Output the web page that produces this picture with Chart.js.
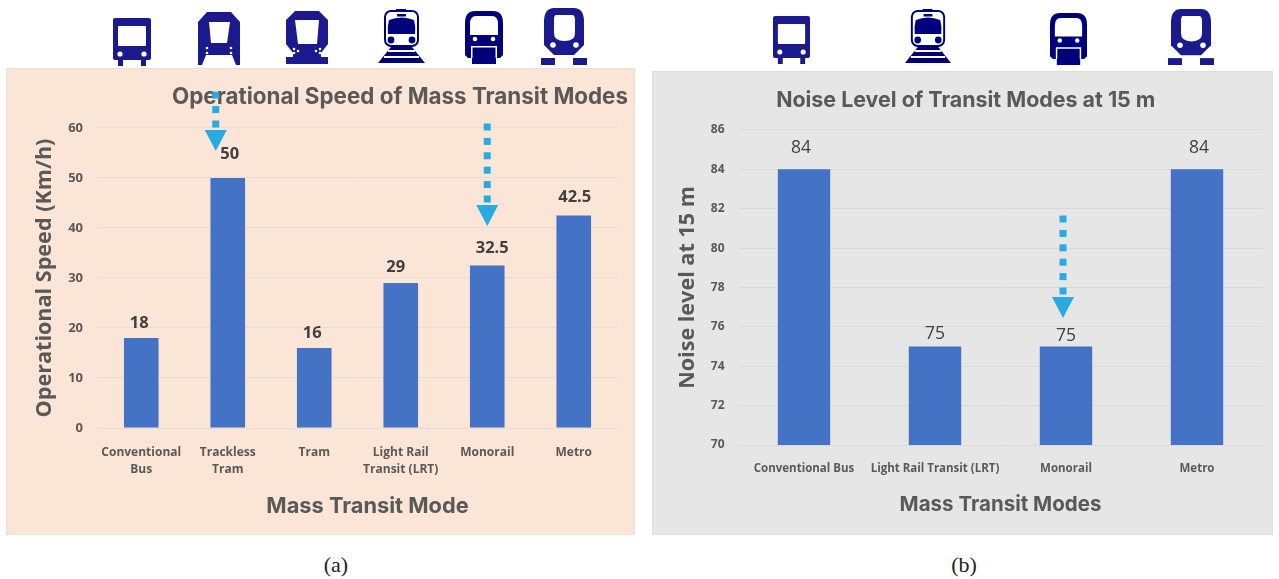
<!DOCTYPE html>
<html>
<head>
<meta charset="utf-8">
<script src="https://cdn.jsdelivr.net/npm/chart.js@4"></script>
<style>
  html, body { margin: 0; padding: 0; background: #fff; width: 1279px; height: 579px; overflow: hidden; }
  .panel { position: absolute; box-sizing: border-box; }
  .panel canvas { position: absolute; left: 0; top: 0; }
  #panelA { left: 7px; top: 69px; width: 627px; height: 465px; background: #fbe5d6; box-shadow: 0 0 0 1px #e4e0dc; }
  #panelB { left: 653px; top: 72px; width: 619px; height: 462px; background: #e6e6e6; box-shadow: 0 0 0 1px #dedede; }
  .caption { position: absolute; top: 552px; width: 60px; text-align: center; font: 22px "Liberation Serif", serif; color: #222; }
  svg.icon { position: absolute; overflow: visible; }
</style>
</head>
<body>

<!-- Vehicle pictograms, one symbol per transit mode -->
<svg width="0" height="0" style="position:absolute">
  <defs>
    <symbol id="bus" viewBox="0 0 38 48" preserveAspectRatio="none">
      <rect x="0" y="0" width="38" height="42" rx="2" fill="#1a1a8c"/>
      <rect x="5" y="8" width="28" height="20" rx="1" fill="#fff"/>
      <circle cx="7" cy="36" r="2.6" fill="#fff"/><circle cx="31" cy="36" r="2.6" fill="#fff"/>
      <rect x="5" y="42" width="5" height="6" fill="#1a1a8c"/><rect x="28" y="42" width="5" height="6" fill="#1a1a8c"/>
    </symbol>
    <symbol id="trackless" viewBox="0 0 42 53" preserveAspectRatio="none">
      <path d="M9 0H33L42 10V53H38L34 43H8L4 53H0V10Z" fill="#1a1a8c"/>
      <path d="M11 10H32L29 31H13Z" fill="#fff"/>
      <circle cx="9" cy="36" r="1.3" fill="#fff"/><circle cx="9" cy="41" r="1.3" fill="#fff"/>
      <circle cx="33" cy="36" r="1.3" fill="#fff"/><circle cx="33" cy="41" r="1.3" fill="#fff"/>
    </symbol>
    <symbol id="tram" viewBox="0 0 42 53" preserveAspectRatio="none">
      <path d="M9 0H33L42 9V33L35 42V46H42V53H0V46H7V42L0 33V9Z" fill="#1a1a8c"/>
      <path d="M9 9H33L31 33H12Z" fill="#fff"/>
      <circle cx="8" cy="38" r="1.3" fill="#fff"/><circle cx="12" cy="40" r="1.3" fill="#fff"/><circle cx="8" cy="42" r="1.3" fill="#fff"/>
      <circle cx="34" cy="38" r="1.3" fill="#fff"/><circle cx="30" cy="40" r="1.3" fill="#fff"/><circle cx="34" cy="42" r="1.3" fill="#fff"/>
    </symbol>
    <symbol id="lrt" viewBox="0 0 47 54" preserveAspectRatio="none">
      <rect x="18" y="0" width="10" height="2" fill="#00007a"/>
      <rect x="7" y="2" width="33" height="35" rx="6" fill="#fff" stroke="#00007a" stroke-width="2"/>
      <rect x="19" y="5" width="9" height="2.500" fill="#00007a"/>
      <path d="M11 11Q23.500 6 36 11Q38 18 37 25H10Q9 18 11 11Z" fill="#00007a"/>
      <circle cx="13" cy="31" r="3.400" fill="#00007a"/><circle cx="34" cy="31" r="3.400" fill="#00007a"/>
      <path d="M13 38H34L47 54H0Z" fill="#00007a"/>
      <rect x="10" y="41" width="27" height="2" fill="#fff"/><rect x="6" y="47" width="35" height="2" fill="#fff"/>
    </symbol>
    <symbol id="mono" viewBox="0 0 38 53" preserveAspectRatio="none">
      <path d="M10 0H28Q38 0 38 12V44L35 47H31V53H7V47H3L0 44V12Q0 0 10 0Z" fill="#00007a"/>
      <path d="M11 5H27Q33 5 33 13V24H5V13Q5 5 11 5Z" fill="#fff"/>
      <circle cx="10" cy="28" r="2.300" fill="#fff"/><circle cx="28" cy="28" r="2.300" fill="#fff"/>
      <path d="M6 35H32V47H30.500V36.500H7.500V47H6Z" fill="#fff"/>
    </symbol>
    <symbol id="metro" viewBox="0 0 46 57" preserveAspectRatio="none">
      <path d="M13 0H33Q43 0 43 14V37L33 47H13L3 37V14Q3 0 13 0Z" fill="#1a1a8c"/>
      <path d="M15 7H31Q34 7 34 12V25Q34 33 23.500 33Q13 33 13 25V12Q13 7 15 7Z" fill="#fff"/>
      <circle cx="12" cy="37" r="2.800" fill="#fff"/><circle cx="35" cy="37" r="2.800" fill="#fff"/>
      <rect x="0" y="50" width="14" height="7" fill="#1a1a8c"/><rect x="32" y="50" width="14" height="7" fill="#1a1a8c"/>
    </symbol>
  </defs>
</svg>
<svg class="icon" style="left:113px;top:18px" width="38" height="48"><use href="#bus" width="38" height="48"/></svg>
<svg class="icon" style="left:198px;top:12px" width="42" height="53"><use href="#trackless" width="42" height="53"/></svg>
<svg class="icon" style="left:286px;top:11px" width="42" height="53"><use href="#tram" width="42" height="53"/></svg>
<svg class="icon" style="left:378px;top:9px" width="47" height="54"><use href="#lrt" width="47" height="54"/></svg>
<svg class="icon" style="left:465px;top:11px" width="38" height="53"><use href="#mono" width="38" height="53"/></svg>
<svg class="icon" style="left:541px;top:8px" width="46" height="57"><use href="#metro" width="46" height="57"/></svg>
<svg class="icon" style="left:773px;top:16px" width="37" height="48"><use href="#bus" width="37" height="48"/></svg>
<svg class="icon" style="left:905px;top:9px" width="46" height="54"><use href="#lrt" width="46" height="54"/></svg>
<svg class="icon" style="left:1050px;top:13px" width="37" height="52"><use href="#mono" width="37" height="52"/></svg>
<svg class="icon" style="left:1168px;top:9px" width="46" height="56"><use href="#metro" width="46" height="56"/></svg>

<div class="panel" id="panelA"><canvas id="speedChart" width="627" height="465"></canvas></div>
<div class="panel" id="panelB"><canvas id="noiseChart" width="619" height="462"></canvas></div>
<div class="caption" style="left:306px">(a)</div>
<div class="caption" style="left:934px">(b)</div>

<script>
// Operational speed
const speedCategories = [["Conventional", "Bus"], ["Trackless", "Tram"], "Tram", ["Light Rail", "Transit (LRT)"], "Monorail", "Metro"];
const speedValues = [18, 50, 16, 29, 32.5, 42.5];
const speedTicks = [0, 10, 20, 30, 40, 50, 60];

// Noise level at 15 m
const noiseCategories = ["Conventional Bus", "Light Rail Transit (LRT)", "Monorail", "Metro"];
const noiseValues = [84, 75, 75, 84];
const noiseTicks = [70, 72, 74, 76, 78, 80, 82, 84, 86];

// Callout arrows: category index plus the value range they span
const speedArrows = [
  { category: 1, dx: -12, from: 67.2, to: 55.4 },
  { category: 4, dx: 0, from: 60.9, to: 40.4 }
];
const noiseArrows = [
  { category: 2, dx: -3, from: 81.8, to: 76.45 }
];

const BAR = "#4472c4", INK = "#595959", ARROW = "#29abe2";
const HEAD_FONT = "Inter, 'Open Sans', sans-serif";
const BODY_FONT = "'Open Sans', sans-serif";

// Moves the chart title sideways, draws the bar value labels, the x-axis
// caption and the dotted callout arrows.
const annotate = {
  id: "annotate",
  afterLayout(chart, args, o) {
    const t = chart.titleBlock;
    t.left += o.titleShift; t.right += o.titleShift;
  },
  afterDatasetsDraw(chart, args, o) {
    const { ctx, scales: { x, y } } = chart;
    ctx.save();
    ctx.textAlign = "center";
    ctx.textBaseline = "middle";

    ctx.font = o.labelFont;
    ctx.fillStyle = "#404040";
    chart.data.datasets[0].data.forEach((v, i) => {
      ctx.fillText(String(v), x.getPixelForValue(i) + o.labelNudge[i], y.getPixelForValue(v) - o.labelLift[i]);
    });

    ctx.font = o.axisFont;
    ctx.fillStyle = INK;
    ctx.fillText(o.axisText, (x.left + x.right) / 2 + o.axisShift, y.bottom + o.axisDrop);

    ctx.fillStyle = ARROW;
    o.arrows.forEach(a => {
      const cx = x.getPixelForValue(a.category) + a.dx;
      const top = y.getPixelForValue(a.from);
      const tip = y.getPixelForValue(a.to);
      const headTop = tip - 21;
      for (let py = headTop - 6; py - 3.5 >= top - 1; py -= 14.4) {
        ctx.fillRect(cx - 3.5, py - 3.5, 7, 7);
      }
      ctx.beginPath();
      ctx.moveTo(cx - 11, headTop);
      ctx.lineTo(cx + 11, headTop);
      ctx.lineTo(cx, tip);
      ctx.closePath();
      ctx.fill();
    });
    ctx.restore();
  }
};

function buildChart(id, s) {
  return new Chart(document.getElementById(id), {
    type: "bar",
    data: {
      labels: s.categories,
      datasets: [{ data: s.values, backgroundColor: BAR, barPercentage: 0.4, categoryPercentage: 1 }]
    },
    plugins: [annotate],
    options: {
      responsive: false,
      animation: false,
      layout: { padding: { left: 0, right: s.rightPad, top: 0, bottom: 0 } },
      plugins: {
        legend: { display: false },
        tooltip: { enabled: false },
        title: {
          display: true,
          text: s.title,
          color: INK,
          font: { family: HEAD_FONT, size: s.titleSize, weight: "bold", lineHeight: 1.2 },
          padding: { top: s.titleTop, bottom: s.titleBottom }
        },
        annotate: s.annotate
      },
      scales: {
        x: {
          grid: { display: false },
          border: { display: false },
          ticks: {
            color: INK, padding: s.xPad, maxRotation: 0, autoSkip: false,
            font: { family: BODY_FONT, size: s.xTickSize, weight: "bold", lineHeight: 1.4 }
          },
          afterFit(scale) { scale.height = s.xHeight; }
        },
        y: {
          min: s.min, max: s.max,
          afterBuildTicks(scale) { scale.ticks = s.ticks.map(value => ({ value })); },
          grid: { color: s.gridColor, drawTicks: false, lineWidth: 1 },
          border: { display: false },
          ticks: {
            color: INK, padding: s.yPad,
            font: { family: BODY_FONT, size: s.yTickSize, weight: "bold" }
          },
          title: {
            display: true, text: s.yTitle, color: INK,
            font: { family: BODY_FONT, size: 21.6, weight: "bold", lineHeight: 1.2 },
            padding: { top: s.yTitleTop, bottom: 0 }
          },
          afterFit(scale) { scale.width = s.yWidth; }
        }
      }
    }
  });
}

buildChart("speedChart", {
  categories: speedCategories, values: speedValues, ticks: speedTicks,
  min: 0, max: 60, title: "Operational Speed of Mass Transit Modes", yTitle: "Operational Speed (Km/h)",
  titleSize: 22.4, titleTop: 15, titleBottom: 17.1, rightPad: 17, xHeight: 106, yWidth: 91,
  xPad: 8, yPad: 15, yTickSize: 13, xTickSize: 12, yTitleTop: 24.5, gridColor: "#e6dcd5",
  annotate: {
    titleShift: 88, labelFont: "bold 16.5px " + BODY_FONT,
    labelLift: [15, 24, 15, 16, 17, 18], labelNudge: [-2, 2, -2, -5, 5, 1],
    axisText: "Mass Transit Mode", axisFont: "bold 21.8px " + HEAD_FONT, axisShift: 10, axisDrop: 78,
    arrows: speedArrows
  }
});

buildChart("noiseChart", {
  categories: noiseCategories, values: noiseValues, ticks: noiseTicks,
  min: 70, max: 86, title: "Noise Level of Transit Modes at 15 m", yTitle: "Noise level at 15 m",
  titleSize: 21.4, titleTop: 15.5, titleBottom: 16.8, rightPad: 9.5, xHeight: 89, yWidth: 85.5,
  xPad: 8, yPad: 14, yTickSize: 12, xTickSize: 11.5, yTitleTop: 21.5, gridColor: "#d9d9d9",
  annotate: {
    titleShift: 8, labelFont: "17.5px " + BODY_FONT,
    labelLift: [21, 13, 11, 21], labelNudge: [-3, 0, 0, 2],
    axisText: "Mass Transit Modes", axisFont: "bold 20.5px " + HEAD_FONT, axisShift: 0, axisDrop: 60,
    arrows: noiseArrows
  }
});
</script>
</body>
</html>
